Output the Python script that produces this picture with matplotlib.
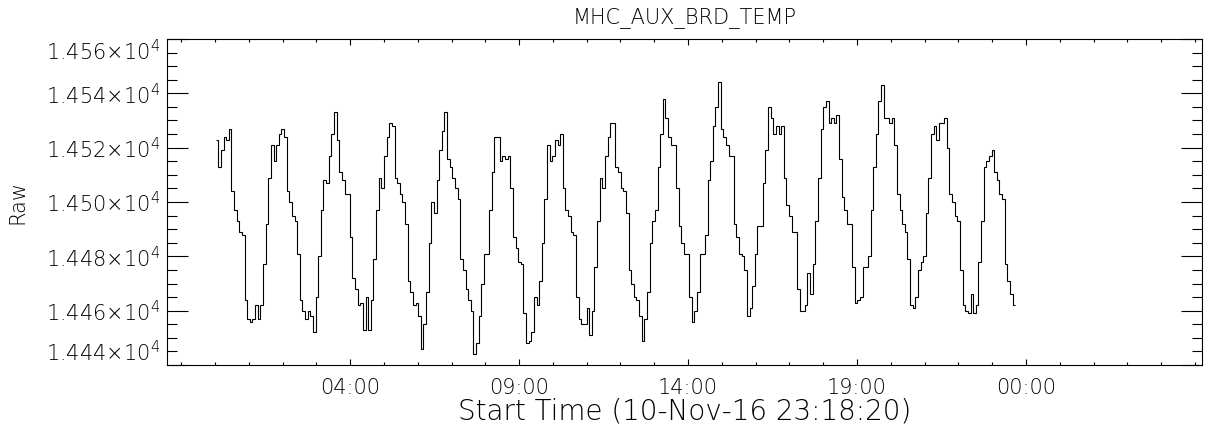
import numpy as np
import matplotlib
matplotlib.use("Agg")
import matplotlib.pyplot as plt
from matplotlib.ticker import MultipleLocator, FixedLocator, FuncFormatter

plt.rcParams['font.family'] = ['DejaVu Sans']
plt.rcParams['font.weight'] = 'light'
plt.rcParams['mathtext.fontset'] = 'dejavusans'
plt.rcParams['mathtext.default'] = 'regular'

# raw counts, one value per sample
raw = [
    14523, 14513, 14519, 14524, 14523, 14527, 14504, 14497, 14493, 14489,
    14488, 14464, 14457, 14456, 14457, 14462, 14457, 14462, 14477, 14492,
    14509, 14521, 14515, 14521, 14525, 14527, 14524, 14504, 14500, 14495,
    14493, 14481, 14464, 14460, 14457, 14460, 14458, 14452, 14465, 14480,
    14497, 14508, 14507, 14517, 14525, 14533, 14523, 14511, 14508, 14503,
    14503, 14487, 14472, 14468, 14462, 14463, 14453, 14465, 14453, 14464,
    14479, 14497, 14509, 14505, 14517, 14524, 14529, 14528, 14509, 14507,
    14503, 14500, 14492, 14471, 14467, 14462, 14463, 14458, 14446, 14455,
    14467, 14485, 14500, 14496, 14508, 14519, 14526, 14533, 14516, 14513,
    14509, 14505, 14501, 14479, 14475, 14468, 14464, 14460, 14444, 14448,
    14458, 14470, 14481, 14481, 14497, 14511, 14524, 14524, 14515, 14517,
    14516, 14517, 14505, 14487, 14483, 14478, 14477, 14459, 14448, 14449,
    14452, 14465, 14462, 14471, 14485, 14501, 14521, 14515, 14517, 14523,
    14521, 14525, 14505, 14497, 14495, 14489, 14488, 14465, 14457, 14455,
    14455, 14461, 14451, 14460, 14476, 14493, 14509, 14505, 14517, 14524,
    14529, 14529, 14513, 14511, 14505, 14504, 14496, 14475, 14470, 14465,
    14464, 14458, 14449, 14457, 14467, 14485, 14493, 14497, 14513, 14525,
    14538, 14531, 14524, 14521, 14521, 14505, 14491, 14485, 14481, 14481,
    14465, 14456, 14460, 14467, 14481, 14481, 14488, 14508, 14515, 14528,
    14535, 14544, 14527, 14524, 14521, 14517, 14517, 14492, 14487, 14481,
    14480, 14475, 14458, 14461, 14469, 14481, 14491, 14491, 14507, 14519,
    14535, 14531, 14525, 14528, 14525, 14528, 14509, 14499, 14495, 14489,
    14489, 14468, 14460, 14460, 14462, 14474, 14466, 14477, 14493, 14509,
    14527, 14535, 14537, 14529, 14531, 14529, 14532, 14516, 14502, 14497,
    14492, 14492, 14476, 14463, 14464, 14465, 14476, 14476, 14480, 14497,
    14513, 14525, 14537, 14543, 14531, 14531, 14529, 14531, 14521, 14503,
    14497, 14492, 14489, 14479, 14462, 14461, 14465, 14475, 14478, 14480,
    14496, 14509, 14525, 14528, 14523, 14529, 14529, 14531, 14520, 14503,
    14500, 14495, 14493, 14475, 14462, 14460, 14459, 14466, 14459, 14462,
    14478, 14493, 14513, 14515, 14517, 14519, 14511, 14508, 14503, 14501,
    14477, 14471, 14466, 14462,
]
start_hour = 0.02        # first sample, hours on the axis clock
sample_minutes = 4.67    # spacing between samples

tick_hours = [4, 9, 14, 19, 24]
tick_labels = ['04:00', '09:00', '14:00', '19:00', '00:00']
y_ticks = [14440, 14460, 14480, 14500, 14520, 14540, 14560]

edges = start_hour + np.arange(len(raw) + 1) * sample_minutes / 60.0

fig = plt.figure(figsize=(12.05, 4.36), dpi=100)
ax = fig.add_axes([0.1383, 0.1628, 0.8590, 0.7478])

ax.stairs(raw, edges, color='black', linewidth=0.8, baseline=None)

ax.set_xlim(-1.43, 29.2)
ax.set_ylim(y_ticks[0], y_ticks[-1])

ax.xaxis.set_major_locator(FixedLocator(tick_hours))
ax.set_xticklabels(tick_labels)
ax.xaxis.set_minor_locator(MultipleLocator(1))
ax.yaxis.set_major_locator(FixedLocator(y_ticks))
ax.yaxis.set_minor_locator(MultipleLocator(5))
ax.yaxis.set_major_formatter(FuncFormatter(
    lambda v, p: r'{:.3f}$\times$10$^{{4}}$'.format(v / 1e4)))

for sp in ax.spines.values():
    sp.set_linewidth(0.8)

ax.tick_params(axis='both', which='both', direction='in', width=0.8,
               colors='black', labelsize=15)
ax.tick_params(axis='y', which='major', length=15, left=True, right=True, pad=5)
ax.tick_params(axis='y', which='minor', length=7.2, left=True, right=True)
ax.tick_params(axis='x', which='major', length=4.3, bottom=True, top=True, pad=9)
ax.tick_params(axis='x', which='minor', length=2.2, bottom=True, top=True)

# IDL pushes the end labels inside the axis range
yticks = ax.yaxis.get_major_ticks()
yticks[0].label1.set_verticalalignment('bottom')
yticks[-1].label1.set_verticalalignment('top')

fig.text(0.568, 1 - 18 / 436, 'MHC_AUX_BRD_TEMP', ha='center', va='center', fontsize=15)
fig.text(0.568, 1 - 411 / 436, 'Start Time (10-Nov-16 23:18:20)',
         ha='center', va='center', fontsize=20)
fig.text(17 / 1205, 1 - 202 / 436, 'Raw', ha='center', va='center',
         rotation=90, fontsize=15)

fig.savefig('out.png', dpi=100)
